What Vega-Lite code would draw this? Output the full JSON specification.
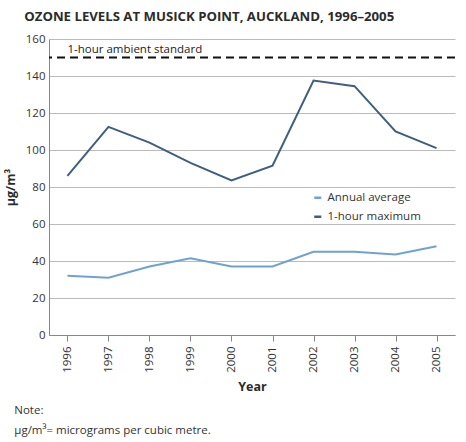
{
  "$schema": "https://vega.github.io/schema/vega-lite/v6.json",
  "background": "white",
  "padding": {"left": 4, "top": 9, "right": 10, "bottom": 2},
  "config": {
    "font": "Open Sans",
    "view": {"stroke": null},
    "axis": {
      "titleFontSize": 12.5,
      "titleFontWeight": "bold",
      "titleColor": "#2b2b2b",
      "labelFontSize": 11.5,
      "labelColor": "#333333",
      "domainColor": "#888888",
      "tickColor": "#888888"
    },
    "axisX": {
      "titlePadding": 8,
      "labelAngle": 270,
      "labelAlign": "right",
      "labelBaseline": "middle",
      "labelPadding": 5,
      "tickSize": 6,
      "grid": false
    },
    "axisY": {
      "titlePadding": 8,
      "tickCount": 8,
      "labelOverlap": false,
      "labelPadding": 4,
      "ticks": false,
      "gridColor": "#bbbbbb",
      "gridWidth": 1
    }
  },
  "title": {
    "text": "OZONE LEVELS AT MUSICK POINT, AUCKLAND, 1996–2005",
    "anchor": "start",
    "frame": "bounds",
    "fontSize": 13.2,
    "fontWeight": "bold",
    "color": "#2b2b2b",
    "offset": 9,
    "dx": 20
  },
  "vconcat": [
    {
      "width": 406,
      "height": 296,
      "title": {
        "text": ["Note:", "µg/m³= micrograms per cubic metre."],
        "orient": "bottom",
        "anchor": "start",
        "frame": "bounds",
        "fontSize": 11.5,
        "fontWeight": "normal",
        "color": "#333333",
        "lineHeight": 20,
        "offset": 12,
        "dx": 10
      },
      "layer": [
        {
          "data": {
            "values": [
              {"year": "1996", "series": "Annual average", "value": 32},
              {"year": "1997", "series": "Annual average", "value": 31},
              {"year": "1998", "series": "Annual average", "value": 37},
              {"year": "1999", "series": "Annual average", "value": 41.5},
              {"year": "2000", "series": "Annual average", "value": 37},
              {"year": "2001", "series": "Annual average", "value": 37},
              {"year": "2002", "series": "Annual average", "value": 45},
              {"year": "2003", "series": "Annual average", "value": 45},
              {"year": "2004", "series": "Annual average", "value": 43.5},
              {"year": "2005", "series": "Annual average", "value": 48},
              {"year": "1996", "series": "1-hour maximum", "value": 86},
              {"year": "1997", "series": "1-hour maximum", "value": 112.5},
              {"year": "1998", "series": "1-hour maximum", "value": 104},
              {"year": "1999", "series": "1-hour maximum", "value": 93},
              {"year": "2000", "series": "1-hour maximum", "value": 83.5},
              {"year": "2001", "series": "1-hour maximum", "value": 91.5},
              {"year": "2002", "series": "1-hour maximum", "value": 137.5},
              {"year": "2003", "series": "1-hour maximum", "value": 134.5},
              {"year": "2004", "series": "1-hour maximum", "value": 110},
              {"year": "2005", "series": "1-hour maximum", "value": 101}
            ]
          },
          "mark": {"type": "line", "strokeWidth": 2},
          "encoding": {
            "x": {
              "field": "year",
              "type": "ordinal",
              "title": "Year",
              "scale": {"type": "point", "padding": 0.45},
              "axis": {
                "encode": {"ticks": {"update": {"y2": {"value": -6}}}}
              }
            },
            "y": {
              "field": "value",
              "type": "quantitative",
              "title": "µg/m³",
              "scale": {"domain": [0, 160]}
            },
            "color": {
              "field": "series",
              "type": "nominal",
              "sort": ["Annual average", "1-hour maximum"],
              "scale": {
                "domain": ["Annual average", "1-hour maximum"],
                "range": ["#6fa3cf", "#3e5f7f"]
              },
              "legend": {
                "title": null,
                "orient": "none",
                "legendX": 263,
                "legendY": 153,
                "symbolType": "stroke",
                "symbolSize": 50,
                "symbolStrokeWidth": 2.5,
                "symbolDash": [],
                "labelFontSize": 11.5,
                "labelColor": "#333333",
                "rowPadding": 6
              }
            }
          }
        },
        {
          "data": {"values": [{"label": "1-hour ambient standard", "value": 150, "year": "1996"}]},
          "mark": {"type": "rule", "color": "#111111", "strokeWidth": 2, "strokeDash": [8, 5]},
          "encoding": {
            "y": {"field": "value", "type": "quantitative", "title": "µg/m³"}
          }
        },
        {
          "data": {"values": [{"label": "1-hour ambient standard", "value": 150, "year": "1996"}]},
          "mark": {"type": "text", "align": "left", "baseline": "bottom", "dy": -3, "fontSize": 11.5, "color": "#222222"},
          "encoding": {
            "x": {"field": "year", "type": "ordinal", "title": "Year"},
            "y": {"field": "value", "type": "quantitative", "title": "µg/m³"},
            "text": {"field": "label"}
          }
        }
      ]
    }
  ]
}
